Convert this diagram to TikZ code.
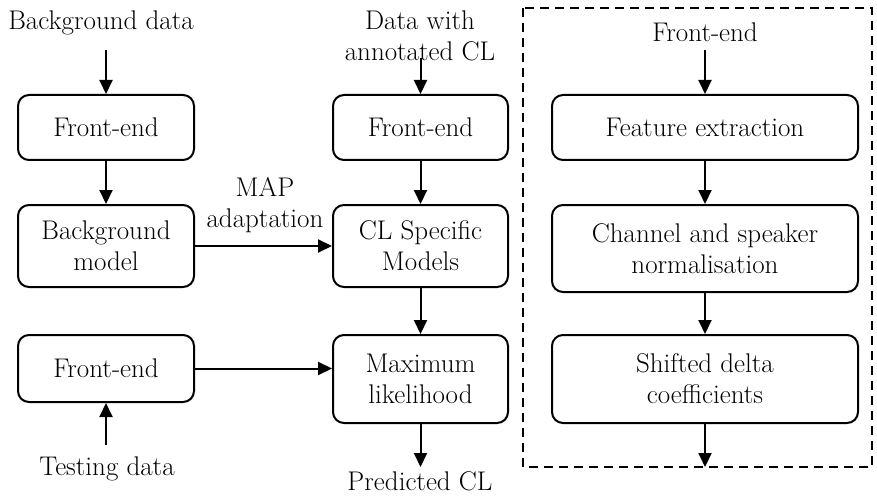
\documentclass[tikz,border=0pt]{standalone}
\usepackage{fontspec}
\usetikzlibrary{arrows.meta}
\begin{document}
\begin{tikzpicture}[x=1pt,y=-1pt,
  font=\fontsize{27}{31}\selectfont,
  box/.style={draw, line width=2pt, rounded corners=11pt, align=center, inner sep=0pt},
  arr/.style={line width=2pt, -{Triangle[length=14pt,width=13pt]}},
  lbl/.style={align=center, inner sep=0pt}]
\useasboundingbox (0,0) rectangle (877,497);

% left column
\node[lbl] (bgdata) at (101,23) {Background data};
\coordinate (bgin) at (106,50);
\node[box, minimum width=176pt, minimum height=65pt] (fe1) at (106,127.5) {Front-end};
\node[box, minimum width=176pt, minimum height=82pt] (bg) at (106,246) {Background\\model};
\node[box, minimum width=176pt, minimum height=67pt] (fe3) at (106,368.5) {Front-end};
\node[lbl] (test) at (107,469) {Testing data};
\coordinate (testout) at (106,445);

% middle column
\node[lbl] (annot) at (420,36) {Data with\\annotated CL};
\coordinate (annin) at (420.5,58);
\node[box, minimum width=175pt, minimum height=65pt] (fe2) at (420.5,127.5) {Front-end};
\node[box, minimum width=175pt, minimum height=82pt] (cls) at (420.5,246) {CL Specific\\Models};
\node[box, minimum width=175pt, minimum height=88pt] (ml) at (420.5,379) {Maximum\\likelihood};
\coordinate (mlout) at (420.5,467);
\node[lbl] (pred) at (420,481) {Predicted CL};

\node[lbl] (map) at (265,205) {MAP\\adaptation};

% right panel: front-end detail
\draw[line width=2pt, dash pattern=on 9pt off 6pt] (523,8) rectangle (872,467);
\node[lbl] (fetitle) at (705,32) {Front-end};
\coordinate (fxin) at (705,50);
\node[box, minimum width=306pt, minimum height=65pt] (fx) at (705,127.5) {Feature extraction};
\node[box, minimum width=306pt, minimum height=87pt] (ch) at (705,248.5) {Channel and speaker\\normalisation};
\node[box, minimum width=306pt, minimum height=88pt] (sd) at (705,379) {Shifted delta\\coefficients};
\coordinate (sdout) at (705,467);

% connectors
\draw[arr] (bgin) -- (fe1);
\draw[arr] (fe1) -- (bg);
\draw[arr] (testout) -- (fe3);
\draw[arr] (annin) -- (fe2);
\draw[arr] (fe2) -- (cls);
\draw[arr] (cls) -- (ml);
\draw[arr] (ml) -- (mlout);
\draw[arr] (bg.east) -- (cls.west);
\draw[arr] (fe3.east) -- (fe3.east -| ml.west);
\draw[arr] (fxin) -- (fx);
\draw[arr] (fx) -- (ch);
\draw[arr] (ch) -- (sd);
\draw[arr] (sd) -- (sdout);
\end{tikzpicture}
\end{document}
